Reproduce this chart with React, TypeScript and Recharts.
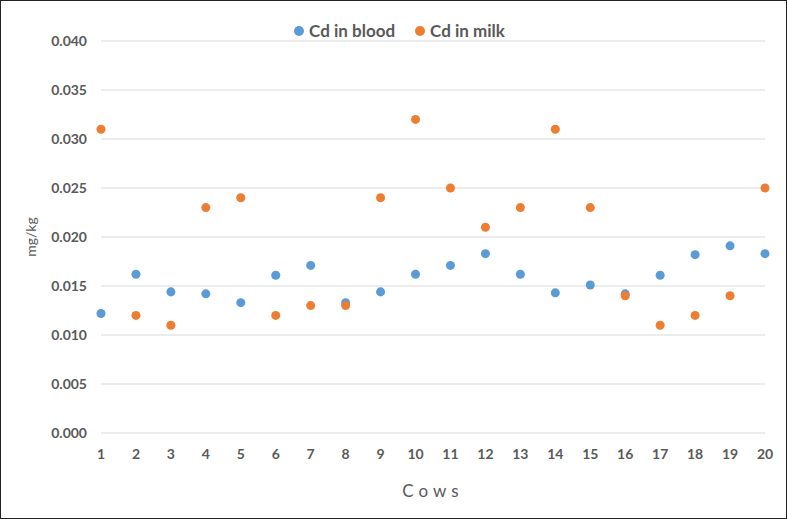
import React from "react";
import { ScatterChart, Scatter, XAxis, YAxis, ZAxis, CartesianGrid, Legend, Label } from "recharts";

const cows = [1, 2, 3, 4, 5, 6, 7, 8, 9, 10, 11, 12, 13, 14, 15, 16, 17, 18, 19, 20];
const cdBlood = [0.0122, 0.0162, 0.0144, 0.0142, 0.0133, 0.0161, 0.0171, 0.0133, 0.0144, 0.0162, 0.0171, 0.0183, 0.0162, 0.0143, 0.0151, 0.0142, 0.0161, 0.0182, 0.0191, 0.0183];
const cdMilk = [0.031, 0.012, 0.011, 0.023, 0.024, 0.012, 0.013, 0.013, 0.024, 0.032, 0.025, 0.021, 0.023, 0.031, 0.023, 0.014, 0.011, 0.012, 0.014, 0.025];
const yTicks = [0, 0.005, 0.01, 0.015, 0.02, 0.025, 0.03, 0.035, 0.04];
const seriesNames = ["Cd in blood", "Cd in milk"];
const colors = ["#5B9BD5", "#ED7D31"];

const bloodData = cows.map((c, i) => ({ cow: c, value: cdBlood[i] }));
const milkData = cows.map((c, i) => ({ cow: c, value: cdMilk[i] }));

const FONT = "Lato, 'Liberation Sans', sans-serif";

const renderLegend = (props: any) => {
  const { payload } = props;
  return (
    <div style={{ display: "flex", justifyContent: "center", gap: 20, paddingLeft: 12, fontFamily: FONT, fontWeight: 700, fontSize: 17, lineHeight: "20px", color: "#595959" }}>
      {payload.map((p: any) => (
        <div key={p.value} style={{ display: "flex", alignItems: "center" }}>
          <span style={{ display: "inline-block", width: 10, height: 10, borderRadius: 5, background: p.color, marginRight: 5 }} />
          <span>{p.value}</span>
        </div>
      ))}
    </div>
  );
};

export default function App() {
  return (
    <div style={{ position: "absolute", left: 0, top: 0, width: 787, height: 519, boxSizing: "border-box", border: "1px solid #222", background: "#fff" }}>
      <div style={{ position: "absolute", left: -1, top: -1 }}>
        <ScatterChart width={787} height={519} margin={{ top: 21, right: 22, bottom: 0, left: 0 }}>
          <CartesianGrid horizontal={true} vertical={false} stroke="#D9D9D9" strokeWidth={1} />
          <XAxis
            type="number"
            dataKey="cow"
            domain={[1, 20]}
            ticks={cows}
            interval={0}
            axisLine={false}
            tickLine={false}
            tickMargin={10}
            height={86}
            tick={{ fill: "#595959", fontSize: 14, fontWeight: 700, fontFamily: FONT }}
          >
            <Label value="Cows" position="insideBottom" offset={22} fill="#595959" style={{ fill: "#595959", fontSize: 17, fontFamily: FONT, letterSpacing: 5 }} />
          </XAxis>
          <YAxis
            type="number"
            dataKey="value"
            domain={[0, 0.04]}
            ticks={yTicks}
            interval={0}
            axisLine={false}
            tickLine={false}
            tickMargin={8}
            width={101}
            tickFormatter={(v: number) => v.toFixed(3)}
            tick={{ fill: "#595959", fontSize: 14, fontWeight: 700, fontFamily: FONT }}
          >
            <Label value="mg/kg" angle={-90} position="insideLeft" offset={31} fill="#595959" style={{ fill: "#595959", fontSize: 14, fontFamily: FONT, textAnchor: "middle" }} />
          </YAxis>
          <ZAxis range={[80, 80]} />
          <Legend verticalAlign="top" content={renderLegend} wrapperStyle={{ top: 21, left: 0, width: 787 }} />
          <Scatter name={seriesNames[0]} data={bloodData} fill={colors[0]} isAnimationActive={false} />
          <Scatter name={seriesNames[1]} data={milkData} fill={colors[1]} isAnimationActive={false} />
        </ScatterChart>
      </div>
    </div>
  );
}
